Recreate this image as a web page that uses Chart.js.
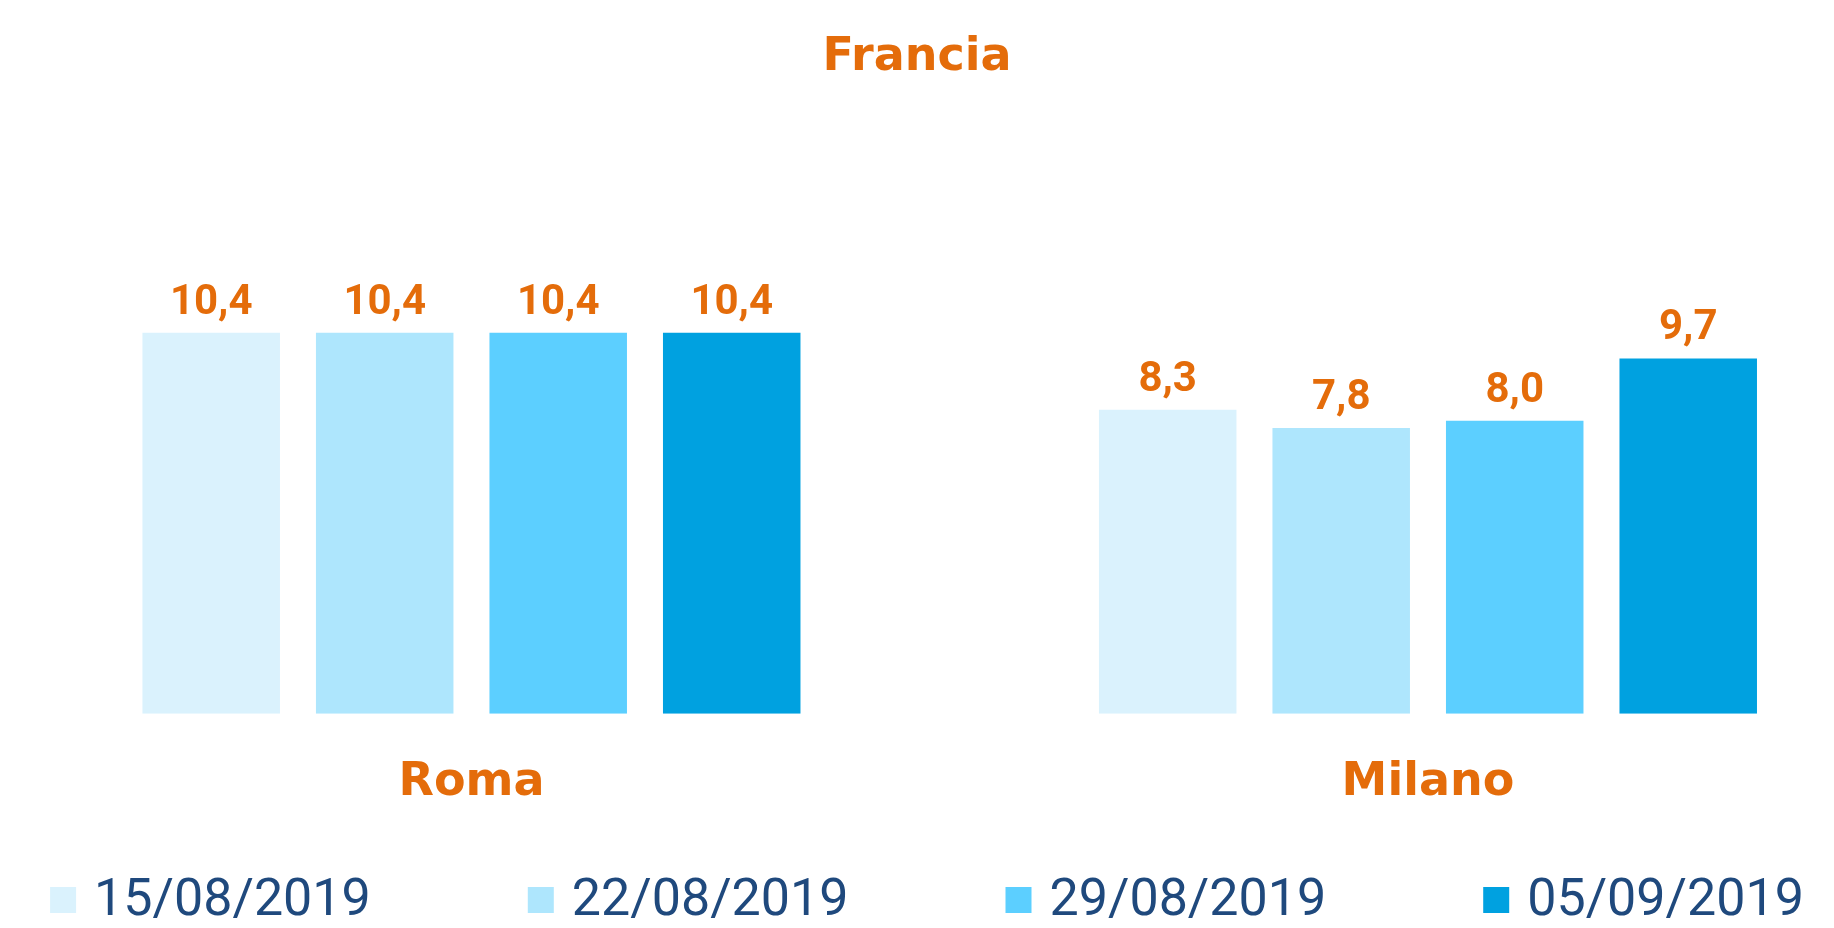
<!DOCTYPE html>
<html>
<head>
<meta charset="utf-8">
<script src="https://cdn.jsdelivr.net/npm/chart.js@4/dist/chart.umd.min.js"></script>
<style>
  html, body { margin: 0; padding: 0; background: #fff; }
  canvas { display: block; }
</style>
</head>
<body>
<canvas id="chart" width="1834" height="928"></canvas>
<script>
const categories = ['Roma', 'Milano'];
const seriesLabels = ['15/08/2019', '22/08/2019', '29/08/2019', '05/09/2019'];
const values1508 = [10.4, 8.3];
const values2208 = [10.4, 7.8];
const values2908 = [10.4, 8.0];
const values0509 = [10.4, 9.7];
const seriesValues = [values1508, values2208, values2908, values0509];
const colors = ['#DAF2FD', '#AEE6FD', '#5CCFFF', '#00A1E0'];
const orange = '#E46C0A';
const navy = '#1F497D';

// value labels above bars, italian decimal comma
const valueLabels = {
    id: 'valueLabels',
    afterDatasetsDraw(chart) {
        const ctx = chart.ctx;
        ctx.save();
        ctx.font = 'bold 42px Roboto';
        ctx.fillStyle = orange;
        ctx.textAlign = 'center';
        ctx.textBaseline = 'alphabetic';
        chart.data.datasets.forEach((ds, i) => {
            chart.getDatasetMeta(i).data.forEach((bar, j) => {
                const v = ds.data[j].y;
                ctx.fillText(v.toFixed(1).replace('.', ','), bar.x, bar.y - 19);
            });
        });
        ctx.restore();
    }
};

// legend drawn by hand, the built-in one can't space items this wide
const wideLegend = {
    id: 'wideLegend',
    afterDraw(chart) {
        const ctx = chart.ctx;
        const box = 26, gapText = 18, gapItem = 157, cy = 900;
        ctx.save();
        ctx.font = '52px Roboto';
        ctx.textBaseline = 'middle';
        const items = chart.data.datasets.map(ds => ({
            label: ds.label, color: ds.backgroundColor,
            w: box + gapText + ctx.measureText(ds.label).width
        }));
        const total = items.reduce((s, it) => s + it.w, 0) + gapItem * (items.length - 1);
        let x = (chart.width - total) / 2 + 10;
        items.forEach(it => {
            ctx.fillStyle = it.color;
            ctx.fillRect(x, cy - box / 2, box, box);
            ctx.fillStyle = navy;
            ctx.fillText(it.label, x + box + gapText, cy + 2);
            x += it.w + gapItem;
        });
        ctx.restore();
    }
};

new Chart(document.getElementById('chart'), {
    type: 'bar',
    data: {
        datasets: seriesLabels.map((label, i) => ({
            label: label,
            data: seriesValues[i].map((v, j) => ({ x: j, y: v })),
            backgroundColor: colors[i],
            categoryPercentage: 0.7256,
            barPercentage: 0.7925
        }))
    },
    options: {
        responsive: false,
        animation: false,
        devicePixelRatio: 1,
        layout: { padding: { left: 0, right: 0, top: 0, bottom: 75 } },
        scales: {
            x: {
                type: 'linear',
                offset: false,
                min: -0.4929,
                max: 1.4245,
                grid: { display: false, drawTicks: false, offset: false },
                border: { display: false },
                afterBuildTicks: scale => { scale.ticks = categories.map((c, i) => ({ value: i })); },
                ticks: {
                    autoSkip: false,
                    maxRotation: 0,
                    padding: 42,
                    color: orange,
                    font: { family: 'DejaVu Sans', weight: 'bold', size: 46 },
                    callback: v => categories[v]
                }
            },
            y: {
                display: false,
                min: 0,
                max: 12
            }
        },
        plugins: {
            legend: { display: false },
            tooltip: { enabled: false },
            title: {
                display: true,
                text: 'Francia',
                color: orange,
                font: { family: 'DejaVu Sans', weight: 'bold', size: 46 },
                padding: { top: 30, bottom: 189 }
            }
        }
    },
    plugins: [valueLabels, wideLegend]
});
</script>
</body>
</html>
